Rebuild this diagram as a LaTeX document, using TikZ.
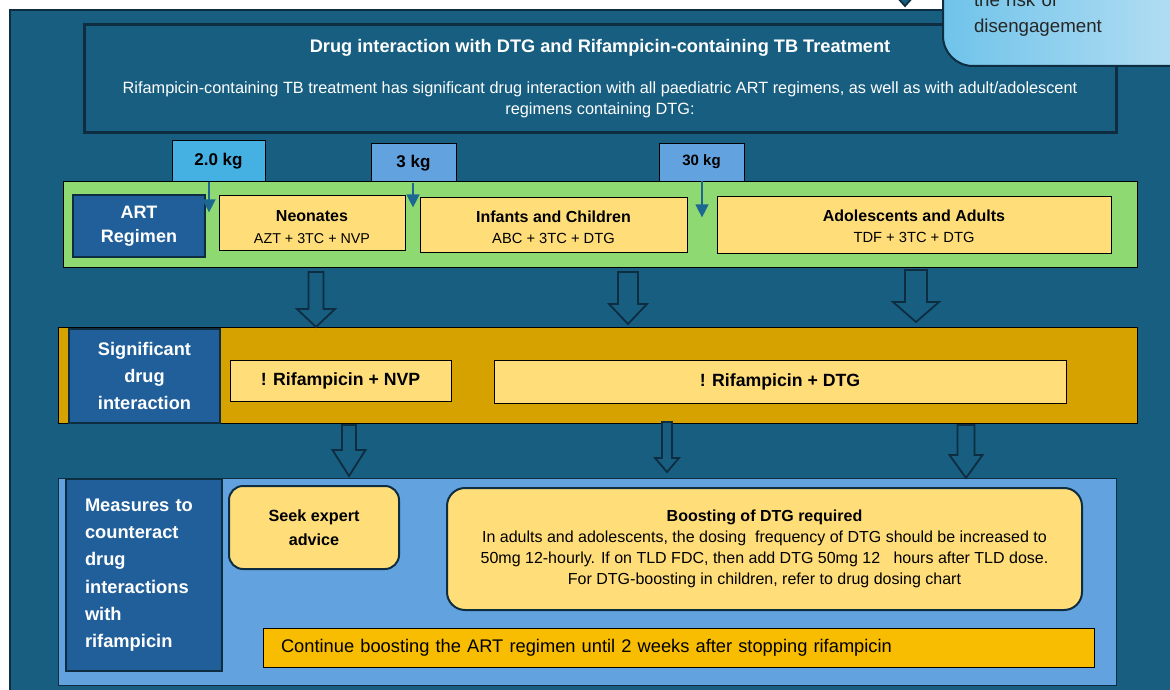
\documentclass[tikz,border=0pt]{standalone}
\usepackage{fontspec}
\setmainfont{Liberation Sans}
\usetikzlibrary{arrows.meta,positioning}

\definecolor{panel}{HTML}{175E80}
\definecolor{edge}{HTML}{0E2D40}
\definecolor{leaf}{HTML}{8FD973}
\definecolor{cream}{HTML}{FFDE7A}
\definecolor{navy}{HTML}{215F9A}
\definecolor{gold}{HTML}{D5A200}
\definecolor{sky}{HTML}{62A3DF}
\definecolor{kgcyan}{HTML}{44B1E2}
\definecolor{amber}{HTML}{F8BD00}
\definecolor{tipblue}{HTML}{1D6893}
\definecolor{calloutL}{HTML}{6FC3EA}
\definecolor{calloutR}{HTML}{BEE2F4}

\begin{document}
\begin{tikzpicture}[x=1pt,y=-1pt,
    every node/.style={inner sep=0pt},
    kgbox/.style={draw=black, line width=0.8pt, font=\fontsize{17}{20}\selectfont\bfseries},
    band/.style={draw=black, line width=1pt},
    bluebox/.style={draw=edge, line width=1.6pt, fill=navy, text=white},
    creambox/.style={draw=black, line width=0.8pt, fill=cream, align=center},
    softbox/.style={draw=edge, line width=2pt, fill=cream, rounded corners=14pt, align=center},
    kgarrow/.style={draw=tipblue, line width=1.4pt, -{Triangle[width=13pt,length=13pt]}},
    hollow/.style={draw=edge, line width=1.8pt, fill=panel, line join=miter}]
    \path[use as bounding box] (0,0) rectangle (1170,690);
    \clip (0,0) rectangle (1170,690);
    \fill[white] (0,0) rectangle (1170,690);
    \draw[draw=edge, line width=2.5pt, fill=panel] (10,10) rectangle (1200,720);

    % heading
    \node[draw=edge, line width=3pt, fill=panel, text=white, align=center,
          minimum width=1032pt, minimum height=108pt,
          font=\fontsize{16.3}{21}\selectfont] (intro) at (600,79)
        {{\fontsize{18.2}{20}\selectfont\bfseries Drug interaction with DTG and Rifampicin-containing TB Treatment}\\[20pt]
         Rifampicin-containing TB treatment has significant drug interaction with all paediatric ART regimens, as well as with adult/adolescent\\
         regimens containing DTG:};

    \node[draw=edge, line width=2pt, rounded corners=30pt, left color=calloutL, right color=calloutR,
          minimum width=274pt, minimum height=103pt, text width=212pt, inner xsep=31pt, align=left,
          text=black!85, font=\fontsize{18.7}{26}\selectfont] (callout) at (1080,14.5)
        {the risk of\\disengagement};
    \draw[hollow] (896,-4) -- (914,-4) -- (905,6) -- cycle;

    % weight bands
    \node[kgbox, fill=kgcyan, minimum width=93pt, minimum height=42pt] (wa) at (218.5,161) {2.0 kg};
    \node[kgbox, fill=sky, minimum width=85pt, minimum height=40pt] (wb) at (413.5,163) {3 kg};
    \node[kgbox, fill=sky, minimum width=85pt, minimum height=38pt,
          font=\fontsize{15}{18}\selectfont\bfseries] (wc) at (701.5,162) {30 kg};

    % regimens
    \node[band, fill=leaf, minimum width=1074pt, minimum height=86pt] (regimens) at (600,224) {};
    \node[bluebox, minimum width=132pt, minimum height=62pt, align=center,
          font=\fontsize{18}{24}\selectfont\bfseries] (artreg) at (139,226) {ART\\Regimen};
    \node[creambox, minimum width=186pt, minimum height=55pt,
          font=\fontsize{14.3}{22}\selectfont] (neonates) at (312,222.5)
        {\rule{0pt}{20pt}{\fontsize{16}{20}\selectfont\bfseries Neonates}\\AZT + 3TC + NVP};
    \node[creambox, minimum width=267pt, minimum height=55pt,
          font=\fontsize{14.7}{21}\selectfont] (infants) at (553.5,224.5)
        {\rule{0pt}{18pt}{\fontsize{16}{20}\selectfont\bfseries Infants and Children}\\ABC + 3TC + DTG};
    \node[creambox, minimum width=394pt, minimum height=57pt,
          font=\fontsize{14.7}{21}\selectfont] (adults) at (914,224.5)
        {\rule{0pt}{16pt}{\fontsize{16}{20}\selectfont\bfseries Adolescents and Adults}\\TDF + 3TC + DTG};

    \draw[kgarrow] ([xshift=-9.5pt]wa.south) -- ++(0,30);
    \draw[kgarrow] ([xshift=-0.5pt]wb.south) -- ++(0,24);
    \draw[kgarrow] ([xshift=0.5pt]wc.south) -- ++(0,36);

    % interactions
    \node[band, fill=gold, minimum width=1079pt, minimum height=96pt] (interaction) at (597.5,375) {};
    \node[bluebox, minimum width=151pt, minimum height=94pt, align=center,
          font=\fontsize{18.2}{27}\selectfont\bfseries] (sigbox) at (144.5,376)
        {Significant\\drug\\interaction};
    \node[creambox, minimum width=221pt, minimum height=41pt,
          font=\fontsize{17.7}{20}\selectfont\bfseries] (rifnvp) at (340.5,380.5) {! Rifampicin + NVP};
    \node[creambox, minimum width=572pt, minimum height=43pt,
          font=\fontsize{17.7}{20}\selectfont\bfseries] (rifdtg) at (780,381.5) {! Rifampicin + DTG};

    % measures
    \node[band, draw=edge, fill=sky, minimum width=1058pt, minimum height=207pt] (measures) at (587,581.5) {};
    \node[bluebox, minimum width=156pt, minimum height=192pt, text width=118pt, inner xsep=19pt,
          align=left, font=\fontsize{18.3}{27.3}\selectfont\bfseries] (counter) at (144,575)
        {Measures to\\counteract\\drug\\interactions\\with\\rifampicin};
    \node[softbox, minimum width=170pt, minimum height=83pt,
          font=\fontsize{16.2}{24}\selectfont\bfseries] (expert) at (314,527.5) {Seek expert\\advice};
    \node[softbox, minimum width=635pt, minimum height=122pt, rounded corners=18pt,
          font=\fontsize{16}{21}\selectfont] (boost) at (764.5,549)
        {\textbf{Boosting of DTG required}\\
         In adults and adolescents, the dosing\ \ frequency of DTG should be increased to\\
         50mg 12-hourly. If on TLD FDC, then add DTG 50mg 12\ \ \ hours after TLD dose.\\
         For DTG-boosting in children, refer to drug dosing chart};
    \node[draw=black, line width=0.8pt, fill=amber, minimum width=831pt, minimum height=39pt,
          text width=795pt, inner xsep=18pt, align=left,
          font=\fontsize{18.3}{20}\selectfont] (cont) at (678.5,647.5)
        {Continue boosting the ART regimen until 2 weeks after stopping rifampicin};

    % block arrows between the bands
    \foreach \ax/\ya/\yb/\sw/\hw/\hlen in {316/272/327/7.5/19/18, 628/272/324/10/19/20,
                                           916/270/322/11/23/20, 349/425/476/7/16.5/26,
                                           667/422/472/5/12/14, 966/425/478/8.5/16.5/23}
        \draw[hollow] (\ax-\sw,\ya) -- (\ax+\sw,\ya) -- (\ax+\sw,\yb-\hlen) -- (\ax+\hw,\yb-\hlen)
            -- (\ax,\yb) -- (\ax-\hw,\yb-\hlen) -- (\ax-\sw,\yb-\hlen) -- cycle;
\end{tikzpicture}
\end{document}
